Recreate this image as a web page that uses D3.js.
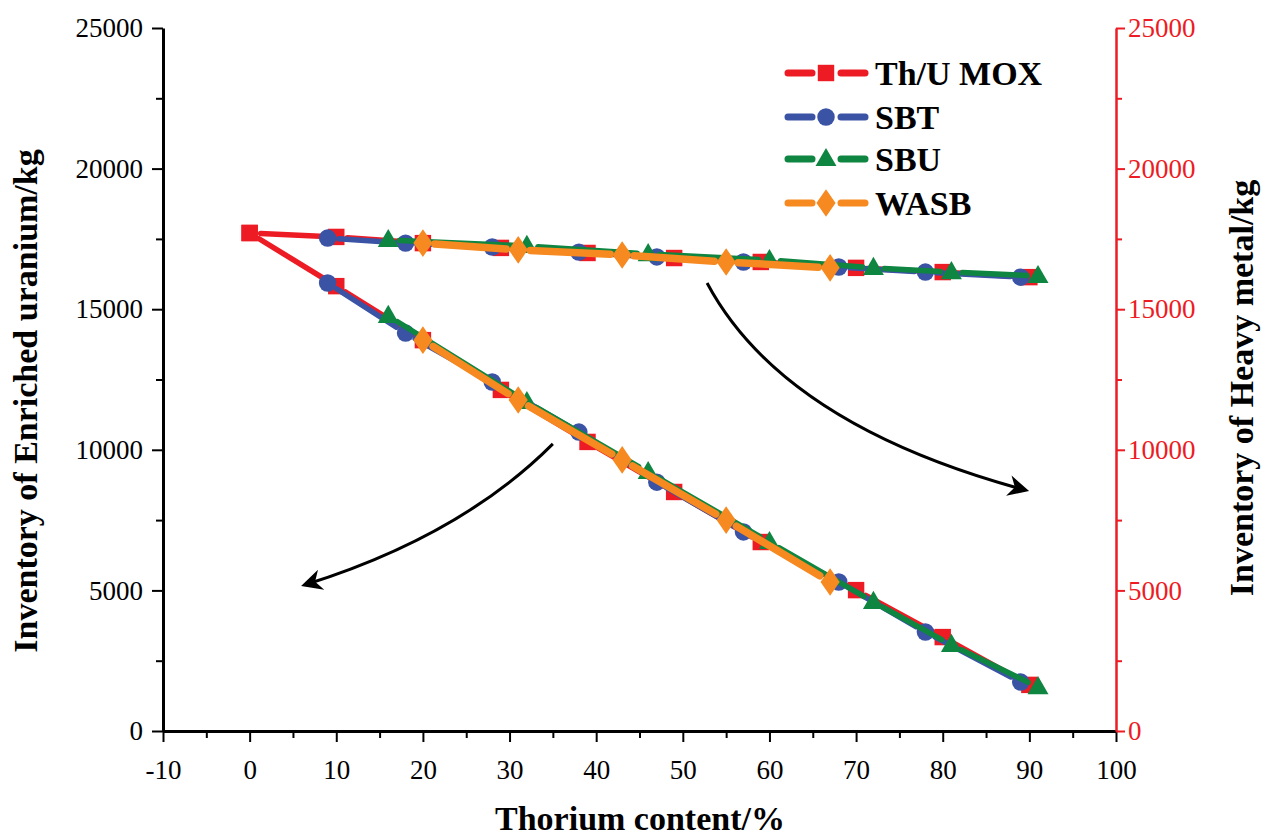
<!DOCTYPE html>
<html>
<head>
<meta charset="utf-8">
<script src="https://cdn.jsdelivr.net/npm/d3@7"></script>
<style>
  html, body { margin: 0; padding: 0; background: #fff; }
  svg { display: block; }
  svg text { font-family: "Liberation Serif", "Times New Roman", serif !important; }
</style>
</head>
<body>
<svg id="chart" width="1265" height="840"></svg>
<script>
// ---------------- DATA ----------------
const seriesNames = ["Th/U MOX", "SBT", "SBU", "WASB"];
const xTicks = [-10, 0, 10, 20, 30, 40, 50, 60, 70, 80, 90, 100];
const yTicks = [0, 5000, 10000, 15000, 20000, 25000];

const moxX  = [0, 10, 20, 29, 39, 49, 59, 70, 80, 90];
const moxHM = [17710, 17570, 17350, 17180, 17000, 16820, 16680, 16470, 16320, 16140];
const moxEU = [17710, 15820, 13900, 12130, 10280, 8500, 6720, 5010, 3340, 1640];

const sbtX  = [9, 18, 28, 38, 47, 57, 68, 78, 89];
const sbtHM = [17530, 17350, 17210, 17030, 16860, 16680, 16500, 16320, 16140];
const sbtEU = [15930, 14150, 12410, 10630, 8850, 7080, 5300, 3520, 1740];

const sbuX  = [16, 32, 46, 60, 72, 81, 91];
const sbuHM = [17460, 17250, 16960, 16750, 16470, 16320, 16180];
const sbuEU = [14760, 11700, 9210, 6720, 4590, 3060, 1560];

const wasbX  = [20, 31, 43, 55, 67];
const wasbHM = [17350, 17110, 16930, 16680, 16470];
const wasbEU = [13900, 11770, 9640, 7500, 5300];

// annotation arrows (data coordinates: start, control, end)
const arrowHM = [[52.8, 15930], [61.5, 10900], [89.5, 8570]];
const arrowEU = [[35.0, 10210], [24.4, 6935], [6.4, 5200]];

// ---------------- STYLE ----------------
const colors = { "Th/U MOX": "#ED1C24", "SBT": "#3A53A4", "SBU": "#0E8540", "WASB": "#F6891F" };
const widths = { "Th/U MOX": 5.5, "SBT": 5.5, "SBU": 5.5, "WASB": 7.5 };
const symbols = { "Th/U MOX": d3.symbolSquare, "SBT": d3.symbolCircle, "SBU": d3.symbolTriangle, "WASB": d3.symbolDiamond };
const symSize = { "Th/U MOX": 270, "SBT": 240, "SBU": 190, "WASB": 220 };
const gapR = { "Th/U MOX": 11, "SBT": 11, "SBU": 11, "WASB": 12 };

const series = [
  { name: "Th/U MOX", x: moxX, lines: [moxHM, moxEU] },
  { name: "SBT", x: sbtX, lines: [sbtHM, sbtEU] },
  { name: "SBU", x: sbuX, lines: [sbuHM, sbuEU] },
  { name: "WASB", x: wasbX, lines: [wasbHM, wasbEU] }
];

const svg = d3.select("#chart");
const pLeft = 163, pRight = 1116, pTop = 28, pBottom = 731;
const serif = "'Liberation Serif', 'Times New Roman', serif";

const x = d3.scaleLinear().domain([-10, 100]).range([pLeft, pRight]);
const y = d3.scaleLinear().domain([0, 25000]).range([pBottom, pTop]);
const y2 = d3.scaleLinear().domain([0, 25000]).range([pBottom, pTop]);

const fmt = d => String(d);

// ---------------- AXES ----------------
const axisFont = 27;
svg.append("g").attr("transform", `translate(0,${pBottom})`)
  .call(d3.axisBottom(x).tickValues(d3.range(-5, 100, 10)).tickSize(7).tickSizeOuter(0).tickFormat(""))
  .call(g => g.select(".domain").remove())
  .selectAll("line").attr("stroke", "#000").attr("stroke-width", 2);
const gx = svg.append("g").attr("transform", `translate(0,${pBottom})`)
  .call(d3.axisBottom(x).tickValues(xTicks).tickSize(11).tickSizeOuter(0).tickPadding(18).tickFormat(fmt));
gx.attr("font-family", serif);
gx.select(".domain").attr("stroke", "#000").attr("stroke-width", 3);
gx.selectAll("line").attr("stroke", "#000").attr("stroke-width", 2);
gx.selectAll("text").attr("font-size", axisFont).attr("fill", "#000").style("font-family", serif);

svg.append("g").attr("transform", `translate(${pLeft},0)`)
  .call(d3.axisLeft(y).tickValues(d3.range(2500, 25000, 5000)).tickSize(7).tickSizeOuter(0).tickFormat(""))
  .call(g => g.select(".domain").remove())
  .selectAll("line").attr("stroke", "#000").attr("stroke-width", 2);
const gy = svg.append("g").attr("transform", `translate(${pLeft},0)`)
  .call(d3.axisLeft(y).tickValues(yTicks).tickSize(11).tickSizeOuter(0).tickPadding(9).tickFormat(fmt));
gy.attr("font-family", serif);
gy.select(".domain").attr("stroke", "#000").attr("stroke-width", 3);
gy.selectAll("line").attr("stroke", "#000").attr("stroke-width", 2);
gy.selectAll("text").attr("font-size", axisFont).attr("fill", "#000").style("font-family", serif);

const red = "#ED1C24";
svg.append("g").attr("transform", `translate(${pRight},0)`)
  .call(d3.axisRight(y2).tickValues(d3.range(2500, 25000, 5000)).tickSize(6).tickSizeOuter(0).tickFormat(""))
  .call(g => g.select(".domain").remove())
  .selectAll("line").attr("stroke", red).attr("stroke-width", 2);
const gy2 = svg.append("g").attr("transform", `translate(${pRight},0)`)
  .call(d3.axisRight(y2).tickValues(yTicks).tickSize(9).tickSizeOuter(0).tickPadding(3).tickFormat(fmt));
gy2.attr("font-family", serif);
gy2.select(".domain").attr("stroke", red).attr("stroke-width", 2.5);
gy2.selectAll("line").attr("stroke", red).attr("stroke-width", 2);
gy2.selectAll("text").attr("font-size", axisFont).attr("fill", red).style("font-family", serif);

// axis titles
svg.append("text").attr("x", 640).attr("y", 830).attr("text-anchor", "middle")
  .attr("font-size", 34).attr("font-weight", "bold").text("Thorium content/%");
svg.append("text").attr("transform", "translate(37,401) rotate(-90)").attr("text-anchor", "middle")
  .attr("font-size", 34).attr("font-weight", "bold").text("Inventory of Enriched uranium/kg");
svg.append("text").attr("transform", "translate(1253,388) rotate(-90)").attr("text-anchor", "middle")
  .attr("font-size", 34).attr("font-weight", "bold").text("Inventory of Heavy metal/kg");

// ---------------- SERIES ----------------
function shortenedSegments(pts, g) {
  const segs = [];
  for (let i = 0; i < pts.length - 1; i++) {
    const [x1, y1] = pts[i], [x2, y2v] = pts[i + 1];
    const dx = x2 - x1, dy = y2v - y1, L = Math.hypot(dx, dy);
    if (L <= 2 * g) continue;
    const ux = dx / L, uy = dy / L;
    segs.push([[x1 + ux * g, y1 + uy * g], [x2 - ux * g, y2v - uy * g]]);
  }
  return segs;
}

const plot = svg.append("g");
series.forEach(s => {
  const g = plot.append("g");
  s.lines.forEach((vals, li) => {
    const sc = li === 0 ? y2 : y;
    const pts = s.x.map((xv, i) => [x(xv), sc(vals[i])]);
    g.selectAll(null).data(shortenedSegments(pts, gapR[s.name])).join("line")
      .attr("x1", d => d[0][0]).attr("y1", d => d[0][1])
      .attr("x2", d => d[1][0]).attr("y2", d => d[1][1])
      .attr("stroke", colors[s.name]).attr("stroke-width", widths[s.name])
      .attr("stroke-linecap", "round");
  });
  s.lines.forEach((vals, li) => {
    const sc = li === 0 ? y2 : y;
    const sym = d3.symbol().type(symbols[s.name]).size(symSize[s.name]);
    g.selectAll(null).data(s.x.map((xv, i) => [xv, vals[i]])).join("path")
      .attr("d", sym)
      .attr("transform", d => {
        const dy = s.name === "SBU" ? 1 : 0;
        return `translate(${x(d[0])},${sc(d[1]) + dy})` + (s.name === "WASB" ? " scale(1.2,1)" : "");
      })
      .attr("fill", colors[s.name]);
  });
});

// ---------------- ARROWS ----------------
const defs = svg.append("defs");
defs.append("marker").attr("id", "ah").attr("viewBox", "0 0 10 10")
  .attr("refX", 8).attr("refY", 5).attr("markerWidth", 8).attr("markerHeight", 7)
  .attr("markerUnits", "strokeWidth").attr("orient", "auto")
  .append("path").attr("d", "M0,0 L10,5 L0,10 L3,5 Z").attr("fill", "#000");

[arrowHM, arrowEU].forEach(a => {
  const p = d3.path();
  p.moveTo(x(a[0][0]), y(a[0][1]));
  p.quadraticCurveTo(x(a[1][0]), y(a[1][1]), x(a[2][0]), y(a[2][1]));
  svg.append("path").attr("d", p.toString()).attr("fill", "none")
    .attr("stroke", "#000").attr("stroke-width", 3).attr("marker-end", "url(#ah)");
});

// ---------------- LEGEND ----------------
const legY = [73, 117, 159, 203];
const leg = svg.append("g");
seriesNames.forEach((n, i) => {
  const cy = legY[i];
  leg.append("line").attr("x1", 788).attr("x2", 812).attr("y1", cy).attr("y2", cy)
    .attr("stroke", colors[n]).attr("stroke-width", 7).attr("stroke-linecap", "round");
  leg.append("line").attr("x1", 841).attr("x2", 865).attr("y1", cy).attr("y2", cy)
    .attr("stroke", colors[n]).attr("stroke-width", 7).attr("stroke-linecap", "round");
  leg.append("path").attr("d", d3.symbol().type(symbols[n]).size(symSize[n])())
    .attr("transform", `translate(826,${cy + (n === "SBU" ? 1 : 0)})` + (n === "WASB" ? " scale(1.2,1)" : ""))
    .attr("fill", colors[n]);
  leg.append("text").attr("x", 875).attr("y", cy + 12).attr("font-size", 34)
    .attr("font-weight", "bold").attr("fill", "#000").text(n);
});
</script>
</body>
</html>
